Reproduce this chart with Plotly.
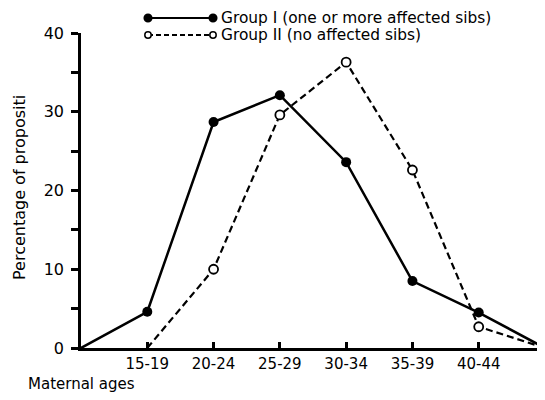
import plotly.graph_objects as go

categories = ["15-19", "20-24", "25-29", "30-34", "35-39", "40-44"]
# x positions: 0 = origin, 1..6 = categories, 7 = right end
group1_x = [0, 1, 2, 3, 4, 5, 6, 7]
group1_y = [0, 4.6, 28.7, 32.1, 23.6, 8.5, 4.5, 0]
group2_x = [1, 2, 3, 4, 5, 6, 7]
group2_y = [0, 10.0, 29.6, 36.3, 22.6, 2.7, 0]
y_tickvals = [0, 5, 10, 15, 20, 25, 30, 35, 40]
y_ticktext = ["0", "", "10", "", "20", "", "30", "", "40"]

FONT = "DejaVu Sans"

# page has an 8px body margin; figure is offset by it
OFF = 8
W, H = 537, 392
L, R, T, B = 81 - OFF, 0, 33 - OFF, 52
pw, ph = W - L - R, H - T - B

fig = go.Figure()
fig.add_trace(go.Scatter(
    x=group2_x, y=group2_y, mode="lines",
    line=dict(color="black", width=2.2, dash="7px,4px"),
    showlegend=False, hoverinfo="skip"))
fig.add_trace(go.Scatter(
    x=group2_x[1:-1], y=group2_y[1:-1], mode="markers",
    marker=dict(symbol="circle", size=9, color="white",
                line=dict(color="black", width=1.8)),
    showlegend=False))
fig.add_trace(go.Scatter(
    x=group1_x, y=group1_y, mode="lines",
    line=dict(color="black", width=2.5),
    showlegend=False, hoverinfo="skip"))
fig.add_trace(go.Scatter(
    x=group1_x[1:-1], y=group1_y[1:-1], mode="markers",
    marker=dict(symbol="circle", size=10, color="black"),
    showlegend=False))


def px(x):
    return (x - OFF - L) / pw


def py(y):
    return (H - B - (y - OFF)) / ph


shapes = []
annotations = []
legend_rows = [
    (18.0, "solid", "black", "Group I (one or more affected sibs)"),
    (35.0, "5px,3px", "white", "Group II (no affected sibs)"),
]
for y, dash, fill, text in legend_rows:
    shapes.append(dict(type="line", xref="paper", yref="paper",
                       x0=px(148), x1=px(213), y0=py(y), y1=py(y),
                       line=dict(color="black", width=2, dash=dash)))
    for cx in (148, 213):
        r = 3.8 if fill == "black" else 3.2
        shapes.append(dict(type="circle", xref="paper", yref="paper",
                           x0=px(cx - r), x1=px(cx + r),
                           y0=py(y + r), y1=py(y - r),
                           fillcolor=fill,
                           line=dict(color="black", width=1.5)))
    annotations.append(dict(xref="paper", yref="paper", x=px(220), y=py(y),
                            text=text, showarrow=False, xanchor="left",
                            yanchor="middle", borderpad=0,
                            font=dict(family=FONT, size=15.4, color="black")))

annotations.append(dict(xref="paper", yref="paper", x=px(26), y=py(384),
                        text="Maternal ages", showarrow=False,
                        xanchor="left", yanchor="middle",
                        font=dict(family=FONT, size=15, color="black")))
annotations.append(dict(xref="paper", yref="paper", x=px(19), y=py(188),
                        text="Percentage of propositi", showarrow=False,
                        textangle=-90, xanchor="center", yanchor="middle",
                        font=dict(family=FONT, size=16, color="black")))

fig.update_layout(
    width=W, height=H,
    margin=dict(l=L, r=R, t=T, b=B, autoexpand=False),
    paper_bgcolor="white", plot_bgcolor="white",
    font=dict(family=FONT, size=15, color="black"),
    shapes=shapes, annotations=annotations,
    xaxis=dict(range=[0, 7], tickvals=[1, 2, 3, 4, 5, 6],
               ticktext=categories, ticks="inside", ticklen=6,
               tickwidth=2.5, tickcolor="black", showline=True,
               linecolor="black", linewidth=2.5, showgrid=False,
               zeroline=False, fixedrange=True, automargin=False,
               tickfont=dict(family=FONT, size=15)),
    yaxis=dict(range=[0, 40], tickvals=y_tickvals, ticktext=y_ticktext,
               ticks="outside", ticklen=7, tickwidth=2.5, tickcolor="black",
               showline=True, linecolor="black", linewidth=2.5,
               showgrid=False, zeroline=False, fixedrange=True,
               automargin=False, ticklabelstandoff=4,
               tickfont=dict(family=FONT, size=16)),
)

fig.write_html("out.html")
